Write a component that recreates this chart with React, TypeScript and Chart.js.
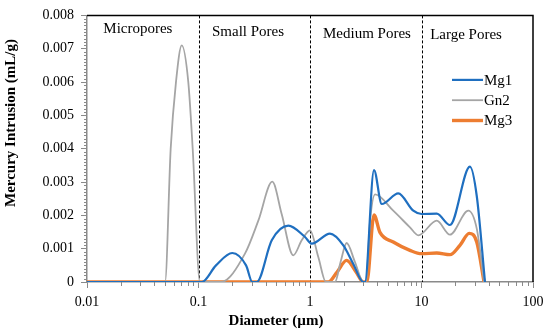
import React, { useEffect, useRef } from 'react';
import { Chart, registerables } from 'chart.js';

Chart.register(...registerables);

// ---- Data ----
const seriesNames = ['Mg1', 'Gn2', 'Mg3'];

const mg1Diameter = [0.01, 0.107, 0.1435, 0.201, 0.267, 0.304, 0.333, 0.454, 0.639, 0.902, 1.036, 1.51, 1.99, 2.44, 3.01, 3.11, 3.75, 4.40, 6.19, 8.44, 10.04, 13.7, 18.0, 27.2, 31.3, 37.1];
const mg1Intrusion = [0, 0, 0.0005, 0.00087, 0.0005, 0, 0, 0.00125, 0.00169, 0.00135, 0.00115, 0.00145, 0.0011, 0.00055, 0, 0, 0.00336, 0.00234, 0.00266, 0.00214, 0.00204, 0.00205, 0.00171, 0.00346, 0.00258, 0];

const gn2Diameter = [0.01, 0.0501, 0.0563, 0.0628, 0.0707, 0.081, 0.0887, 0.1031, 0.159, 0.261, 0.344, 0.459, 0.557, 0.708, 0.843, 1.0, 1.187, 1.39, 1.675, 1.88, 2.13, 2.53, 3.01, 3.18, 3.45, 3.83, 5.58, 7.88, 9.36, 13.7, 18.0, 26.3, 31.3, 36.4];
const gn2Intrusion = [0, 0, 0.004, 0.006, 0.0071, 0.006, 0.004, 0, 0, 0.00085, 0.00184, 0.00301, 0.00204, 0.0008, 0.00125, 0.00155, 0.00075, 0, 0, 0.0006, 0.00117, 0.0006, 0, 0, 0.0018, 0.00263, 0.00214, 0.00164, 0.0014, 0.00184, 0.00142, 0.00214, 0.0016, 0];

const mg3Diameter = [0.01, 1.46, 1.75, 2.13, 2.59, 3.01, 3.23, 3.75, 4.24, 5.58, 7.88, 10.04, 13.7, 18.0, 22.1, 26.8, 31.3, 36.4];
const mg3Intrusion = [0, 0, 0.0003, 0.00065, 0.0003, 0, 0, 0.00201, 0.00149, 0.0012, 0.00095, 0.00085, 0.00087, 0.00082, 0.0011, 0.00146, 0.0012, 0];

const xTickValues = [0.01, 0.1, 1, 10, 100];
const yTickLabels = ['0', '0.001', '0.002', '0.003', '0.004', '0.005', '0.006', '0.007', '0.008'];
const regionBoundaries = [0.1, 1, 10];
const regionLabels = ['Micropores', 'Small Pores', 'Medium Pores', 'Large Pores'];
const xTitle = 'Diameter (µm)';
const yTitle = 'Mercury Intrusion (mL/g)';

// ---- Styles / positions ----
const COLORS = ['#1F6FC0', '#A5A5A5', '#ED7D31'];
const WIDTHS = [2.2, 1.8, 3.4];
const FONT = '"Liberation Serif", "Times New Roman", serif';
const regionLabelAnchors = [
  { x: 0.0286, y: 0.00758 },
  { x: 0.278, y: 0.0075 },
  { x: 3.24, y: 0.00745 },
  { x: 25.1, y: 0.0074 },
];

const toPoints = (xs: number[], ys: number[]) => xs.map((x, i) => ({ x, y: ys[i] }));

const decorPlugin = {
  id: 'decor',
  beforeDatasetsDraw(chart: any) {
    const { ctx, chartArea, scales } = chart;
    const xs = scales.x;
    ctx.save();
    ctx.strokeStyle = '#000';
    ctx.lineWidth = 1;
    ctx.setLineDash([3, 2]);
    regionBoundaries.forEach((b) => {
      const px = Math.round(xs.getPixelForValue(b)) + 0.5;
      ctx.beginPath();
      ctx.moveTo(px, chartArea.top);
      ctx.lineTo(px, chartArea.bottom);
      ctx.stroke();
    });
    ctx.restore();
  },
  afterDraw(chart: any) {
    const { ctx, chartArea, scales } = chart;
    const xs = scales.x;
    const ys = scales.y;
    ctx.save();
    // frame top & right
    ctx.strokeStyle = '#000';
    ctx.lineWidth = 1.5;
    ctx.beginPath();
    ctx.moveTo(chartArea.left, chartArea.top);
    ctx.lineTo(chartArea.right, chartArea.top);
    ctx.lineTo(chartArea.right, chartArea.bottom);
    ctx.stroke();

    // minor ticks
    ctx.strokeStyle = '#8a8a8a';
    ctx.lineWidth = 1;
    for (let i = 1; i < 80; i++) {
      if (i % 10 === 0) continue;
      const py = Math.round(ys.getPixelForValue(i * 0.0001)) + 0.5;
      ctx.beginPath();
      ctx.moveTo(chartArea.left - 3, py);
      ctx.lineTo(chartArea.left, py);
      ctx.stroke();
    }
    for (let d = 0; d < xTickValues.length - 1; d++) {
      for (let k = 2; k <= 9; k++) {
        const px = Math.round(xs.getPixelForValue(xTickValues[d] * k)) + 0.5;
        ctx.beginPath();
        ctx.moveTo(px, chartArea.bottom);
        ctx.lineTo(px, chartArea.bottom + 4);
        ctx.stroke();
      }
    }

    // region labels
    ctx.fillStyle = '#000';
    ctx.font = `15px ${FONT}`;
    ctx.textAlign = 'center';
    ctx.textBaseline = 'middle';
    regionLabels.forEach((t, i) => {
      ctx.fillText(t, xs.getPixelForValue(regionLabelAnchors[i].x), ys.getPixelForValue(regionLabelAnchors[i].y));
    });

    // legend
    const lx1 = chartArea.right - 81;
    const lx2 = chartArea.right - 50;
    chart.data.datasets.forEach((ds: any, i: number) => {
      const ly = chartArea.top + 64.5 + i * 20.3;
      ctx.strokeStyle = ds.borderColor;
      ctx.lineWidth = ds.borderWidth;
      ctx.beginPath();
      ctx.moveTo(lx1, ly);
      ctx.lineTo(lx2, ly);
      ctx.stroke();
      ctx.fillStyle = '#000';
      ctx.textAlign = 'left';
      ctx.fillText(ds.label, lx2 + 1, ly + 1);
    });

    // axis titles
    ctx.font = `bold 15px ${FONT}`;
    ctx.textAlign = 'center';
    ctx.fillText(xTitle, chart.width / 2 + 1, 321);
    ctx.translate(11, 123);
    ctx.rotate(-Math.PI / 2);
    ctx.fillText(yTitle, 0, 0);
    ctx.restore();
  },
};

export default function App() {
  const ref = useRef<HTMLCanvasElement | null>(null);
  useEffect(() => {
    if (!ref.current) return;
    const chart = new Chart(ref.current, {
      type: 'line',
      data: {
        datasets: [
          { label: seriesNames[0], data: toPoints(mg1Diameter, mg1Intrusion) },
          { label: seriesNames[1], data: toPoints(gn2Diameter, gn2Intrusion) },
          { label: seriesNames[2], data: toPoints(mg3Diameter, mg3Intrusion) },
        ].map((d, i) => ({
          ...d,
          borderColor: COLORS[i],
          backgroundColor: COLORS[i],
          borderWidth: WIDTHS[i],
          pointRadius: 0,
          fill: false,
          cubicInterpolationMode: 'monotone' as const,
        })),
      },
      options: {
        responsive: false,
        animation: false,
        devicePixelRatio: 1,
        layout: { padding: { left: 0, right: 17, top: 13, bottom: 0 } },
        plugins: { legend: { display: false }, tooltip: { enabled: false } },
        scales: {
          x: {
            type: 'logarithmic',
            min: 0.01,
            max: 100,
            afterBuildTicks: (s: any) => {
              s.ticks = xTickValues.map((v) => ({ value: v, major: true }));
            },
            afterFit: (s: any) => {
              s.height = 52;
            },
            ticks: {
              autoSkip: false,
              maxRotation: 0,
              padding: 6,
              color: '#000',
              font: { family: FONT, size: 14 },
              callback: (v: any) => String(v),
            },
            grid: { drawOnChartArea: false, drawTicks: true, tickLength: 6, color: '#8a8a8a' },
            border: { display: true, color: '#8a8a8a', width: 1.5 },
          },
          y: {
            type: 'linear',
            min: 0,
            max: 0.008,
            afterFit: (s: any) => {
              s.width = 87;
            },
            ticks: {
              stepSize: 0.001,
              padding: 7,
              color: '#000',
              font: { family: FONT, size: 14 },
              callback: (v: any) => yTickLabels[Math.round(Number(v) / 0.001)] ?? '',
            },
            grid: { drawOnChartArea: false, drawTicks: true, tickLength: 6, color: '#8a8a8a' },
            border: { display: true, color: '#8a8a8a', width: 1.5 },
          },
        },
      },
      plugins: [decorPlugin],
    });
    return () => chart.destroy();
  }, []);
  return (
    <div style={{ position: 'fixed', left: 0, top: 0, width: 550, height: 334, background: '#fff' }}>
      <canvas ref={ref} width={550} height={334} />
    </div>
  );
}
